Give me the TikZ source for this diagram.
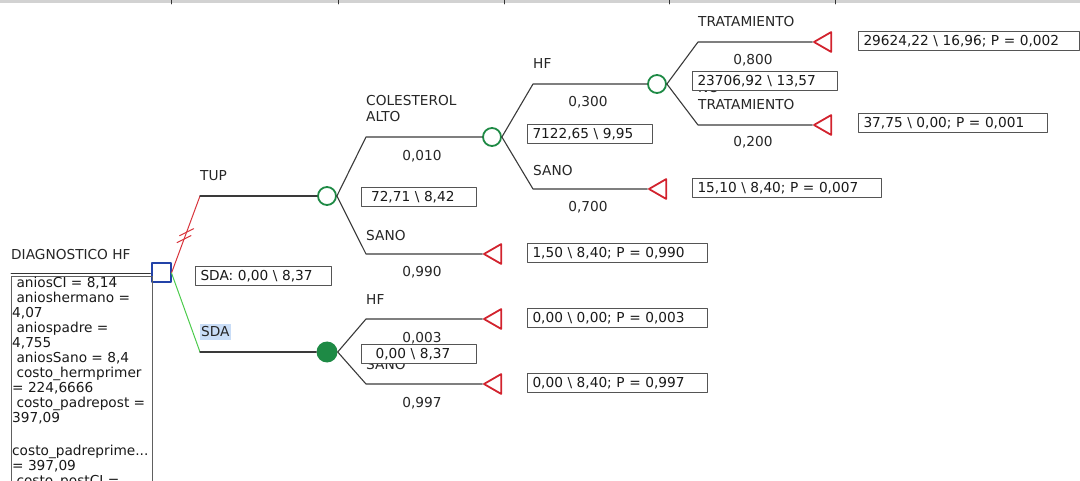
\documentclass[tikz,border=0pt]{standalone}
\usepackage{fontspec}
\setmainfont{DejaVu Sans}
\usetikzlibrary{shapes.geometric,calc}
\definecolor{treegray}{HTML}{3A3A3A}
\definecolor{chancegreen}{HTML}{1E8A45}
\definecolor{leafred}{HTML}{D2232E}
\definecolor{decblue}{HTML}{2343A8}
\definecolor{tupred}{HTML}{D8343C}
\definecolor{sdagreen}{HTML}{4CCB4C}
\definecolor{selblue}{HTML}{C9DDF7}
\definecolor{boxgray}{HTML}{555555}
\tikzset{
  decision/.style={draw=decblue,line width=2pt,fill=white,minimum size=19pt,inner sep=0pt},
  chance/.style={circle,draw=chancegreen,line width=1.8pt,fill=white,minimum size=18pt,inner sep=0pt},
  chancefull/.style={circle,fill=chancegreen,minimum size=21pt,inner sep=0pt},
  leaf/.style={regular polygon,regular polygon sides=3,shape border rotate=90,draw=leafred,line width=1.8pt,minimum size=23pt,inner sep=0pt},
  branch/.style={treegray,line width=1.1pt},
  lbl/.style={anchor=base west,inner sep=0pt,text=black!85},
  prob/.style={anchor=base,inner sep=0pt,text=black!85},
  valbox/.style={draw=boxgray,line width=1pt,fill=white,anchor=north west,minimum height=19pt,
    inner xsep=5pt,inner ysep=0pt,text height=11pt,text depth=2pt,align=left,text=black!90},
}
\begin{document}
\begin{tikzpicture}[x=1pt,y=-1pt,line join=round,line cap=round,font=\fontsize{13.7}{15}\selectfont]
	\useasboundingbox (0,0) rectangle (1080,481);
	\clip (0,0) rectangle (1080,481);
	\fill[gray!35] (0,0) rectangle (1080,3);
	\foreach \x in {171,338,504,669,835} \draw[gray!40!black,line width=0.7pt] (\x,0)--(\x,4);
	% nodes of the tree
	\node[decision] (dec) at (161,273) {};
	\node[chance] (tupC) at (327,196) {};
	\node[chancefull] (sdaC) at (327,352) {};
	\node[chance] (colC) at (492,137) {};
	\node[chance] (hfC) at (657,84) {};
	\node[leaf] (sanoAT) at (495.5,254) {};
	\node[leaf] (sanoBT) at (660.5,189) {};
	\node[leaf] (tratT) at (825.5,42) {};
	\node[leaf] (notratT) at (825.5,125) {};
	\node[leaf] (sdahfT) at (495.5,319) {};
	\node[leaf] (sdasanoT) at (495.5,384) {};
	\coordinate (tupB) at (200,196);
	\coordinate (sdaB) at (200,352);
	\coordinate (colB) at (366,137);
	\coordinate (sanoAB) at (366,254);
	\coordinate (hfB) at (533,84);
	\coordinate (sanoBB) at (533,189);
	\coordinate (tratB) at (698,42);
	\coordinate (notratB) at (698,125);
	\coordinate (sdahfB) at (366,319);
	\coordinate (sdasanoB) at (366,384);
	% branches
	\draw[tupred,line width=1pt] (dec.east)--(tupB);
	\draw[sdagreen,line width=1pt] (dec.east)--(sdaB);
	\foreach \t in {0.44,0.53}
		\draw[tupred,line width=1pt] ($(dec.east)!\t!(tupB)$) ++(-7,3.5)--++(14,-7);
	\draw[branch] (tupB)--(tupC);
	\draw[branch] (sdaB)--(sdaC);
	\draw[branch] (tupC.east)--(colB)--(colC);
	\draw[branch] (tupC.east)--(sanoAB)--(sanoAT);
	\draw[branch] (colC.east)--(hfB)--(hfC);
	\draw[branch] (colC.east)--(sanoBB)--(sanoBT);
	\draw[branch] (hfC.east)--(tratB)--(tratT);
	\draw[branch] (hfC.east)--(notratB)--(notratT);
	\draw[branch] (sdaC.east)--(sdahfB)--(sdahfT);
	\draw[branch] (sdaC.east)--(sdasanoB)--(sdasanoT);
	% info box
	\node[draw=gray!75!black,line width=1.4pt,anchor=north west,minimum width=141pt,minimum height=230pt,inner sep=0pt] (info) at (11,276) {};
	\draw[black!80,line width=0.9pt] ([yshift=2.5pt]info.north west)--([yshift=2.5pt]dec.west |- info.north west);
	\node[anchor=north west,inner sep=0pt,align=left,text=black!90] (infotxt) at (12,276.5)
		{\ aniosCI = 8,14\\ \ anioshermano =\\4,07\\ \ aniospadre =\\4,755\\ \ aniosSano = 8,4\\
		 \ costo\_hermprimer\\= 224,6666\\ \ costo\_padrepost =\\397,09\\[3pt] \mbox{}\\
		 costo\_padreprime...\\= 397,09\\ \ costo\_postCI =};
	% labels
	\node[lbl] (diagL) at (11,260) {DIAGNOSTICO HF};
	\node[lbl] (tupL) at (200,181) {TUP};
	\node[lbl,fill=selblue,inner xsep=1pt,inner ysep=2.5pt] (sdaL) at (200,337) {SDA};
	\node[lbl] (colL) at (366,106) {COLESTEROL};
	\node[lbl] (colL2) at (366,122) {ALTO};
	\node[lbl] (sanoAL) at (366,241) {SANO};
	\node[lbl] (hfL) at (533,69) {HF};
	\node[lbl] (sanoBL) at (533,176) {SANO};
	\node[lbl] (tratL) at (698,27) {TRATAMIENTO};
	\node[lbl] (notratL) at (698,93) {NO};
	\node[lbl] (notratL2) at (698,110) {TRATAMIENTO};
	\node[lbl] (sdahfL) at (366,305) {HF};
	\node[lbl] (sdasanoL) at (366,370) {SANO};
	\node[prob] (colP) at (422,160.5) {0,010};
	\node[prob] (sanoAP) at (422,277) {0,990};
	\node[prob] (sdahfP) at (422,342) {0,003};
	\node[prob] (sdasanoP) at (422,407) {0,997};
	\node[prob] (hfP) at (588,107) {0,300};
	\node[prob] (sanoBP) at (588,212) {0,700};
	\node[prob] (tratP) at (753,65) {0,800};
	\node[prob] (notratP) at (753,147) {0,200};
	% value boxes
	\node[valbox,text width=126pt] (decV) at (195,266) {SDA: 0,00 \textbackslash\ 8,37};
	\node[valbox,text width=105pt] (tupV) at (361,187) {\ 72,71 \textbackslash\ 8,42};
	\node[valbox,text width=105pt] (sdaV) at (361,344) {\ \ 0,00 \textbackslash\ 8,37};
	\node[valbox,text width=115pt] (colV) at (527,124) {7122,65 \textbackslash\ 9,95};
	\node[valbox,text width=135pt] (hfV) at (692,71) {23706,92 \textbackslash\ 13,57};
	\node[valbox,text width=170pt] (sanoAV) at (527,243) {1,50 \textbackslash\ 8,40; P = 0,990};
	\node[valbox,text width=170pt] (sdahfV) at (527,308) {0,00 \textbackslash\ 0,00; P = 0,003};
	\node[valbox,text width=170pt] (sdasanoV) at (527,373) {0,00 \textbackslash\ 8,40; P = 0,997};
	\node[valbox,text width=179pt] (sanoBV) at (692,178) {15,10 \textbackslash\ 8,40; P = 0,007};
	\node[valbox,text width=211pt] (tratV) at (858,31) {29624,22 \textbackslash\ 16,96; P = 0,002};
	\node[valbox,text width=179pt] (notratV) at (858,113) {37,75 \textbackslash\ 0,00; P = 0,001};
\end{tikzpicture}
\end{document}
